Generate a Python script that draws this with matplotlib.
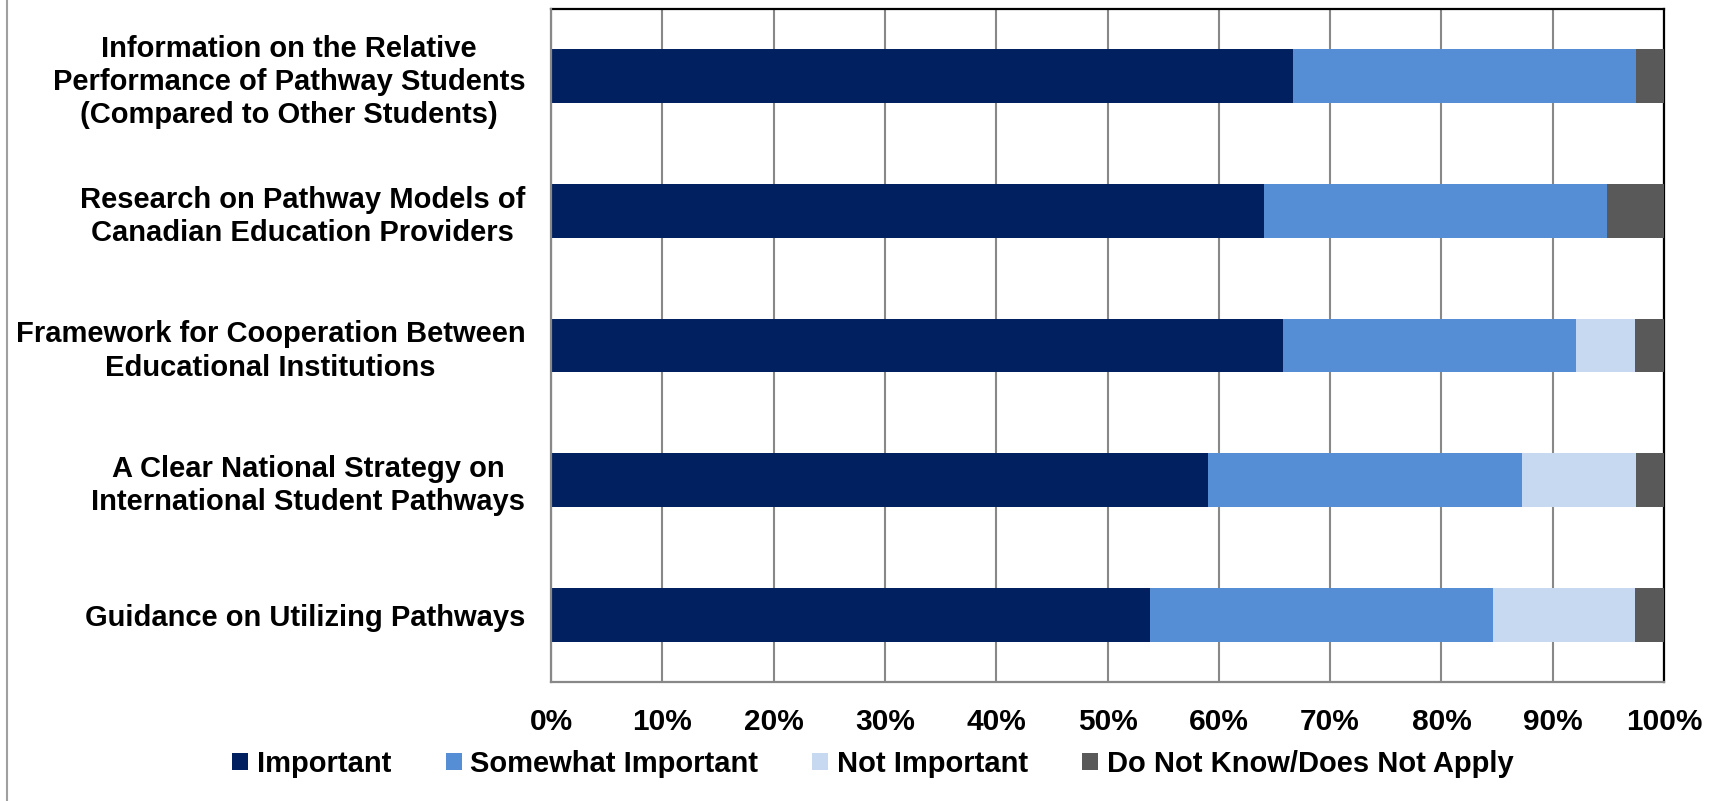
import matplotlib
matplotlib.use("Agg")
import matplotlib.pyplot as plt
from matplotlib.lines import Line2D
from matplotlib.ticker import FuncFormatter

plt.rcParams['font.family'] = ['Liberation Sans', 'DejaVu Sans']
plt.rcParams['font.weight'] = 'bold'

# categories, top to bottom as in the chart
categories = [
    "Information on the Relative\nPerformance of Pathway Students\n(Compared to Other Students)",
    "Research on Pathway Models of\nCanadian Education Providers",
    "Framework for Cooperation Between\nEducational Institutions",
    "A Clear National Strategy on\nInternational Student Pathways",
    "Guidance on Utilizing Pathways",
]
series_names = ["Important", "Somewhat Important", "Not Important",
                "Do Not Know/Does Not Apply"]
important = [66.7, 64.1, 65.8, 59.0, 53.8]
somewhat = [30.8, 30.8, 26.3, 28.2, 30.8]
not_important = [0.0, 0.0, 5.3, 10.3, 12.8]
dont_know = [2.5, 5.1, 2.6, 2.5, 2.6]
colors = ["#002060", "#558ED5", "#C6D9F1", "#595959"]

fig = plt.figure(figsize=(17.22, 8.01), dpi=100)
ax = fig.add_axes([551 / 1722, 1 - 682 / 801, (1664 - 551) / 1722, (682 - 9) / 801])

y = list(range(len(categories)))[::-1]
left = [0.0] * len(categories)
for vals, name, col in zip([important, somewhat, not_important, dont_know],
                           series_names, colors):
    ax.barh(y, vals, left=left, height=0.4, color=col, label=name,
            edgecolor='none', zorder=3)
    left = [a + b for a, b in zip(left, vals)]

ax.set_xlim(0, 100)
ax.set_ylim(-0.5, len(categories) - 0.5)
ax.set_xticks(range(0, 101, 10))
ax.xaxis.set_major_formatter(FuncFormatter(lambda v, p: f"{int(v)}%"))
ax.set_yticks(y)
ax.set_yticklabels(categories, fontsize=21, fontweight='bold',
                   multialignment='center', linespacing=1.24)
ax.tick_params(axis='x', length=0, pad=19, labelsize=21.5)
ax.tick_params(axis='y', length=0, pad=18.5)
for lbl in ax.get_xticklabels():
    lbl.set_fontweight('bold')

ax.grid(axis='x', color='#888888', linewidth=1.5, zorder=1)
ax.set_axisbelow(True)
for side in ['left', 'bottom']:
    ax.spines[side].set_color('#888888')
    ax.spines[side].set_linewidth(1.6)
    ax.spines[side].set_zorder(4)
for side in ['top', 'right']:
    ax.spines[side].set_color('black')
    ax.spines[side].set_linewidth(1.6)

leg = fig.legend(loc='center', bbox_to_anchor=(0.507, 0.046), ncol=4,
                 frameon=False, prop={'size': 21, 'weight': 'bold'},
                 handlelength=0.55, handleheight=0.5, handletextpad=0.3,
                 columnspacing=1.85)

# thin frame line at the far left of the slide
fig.add_artist(Line2D([7 / 1722, 7 / 1722], [0, 1], color='#A0A0A0',
                      linewidth=1.5, transform=fig.transFigure))

fig.savefig("out.png", dpi=100)
